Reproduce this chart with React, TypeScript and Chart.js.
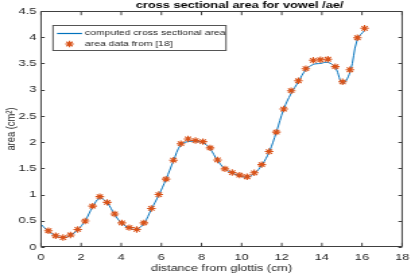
import React, { useEffect, useRef } from 'react';
import { Chart, registerables } from 'chart.js';

Chart.register(...registerables);

// ---------- data ----------
const chartTitle = 'cross sectional area for vowel /ae/';
const xAxisTitle = 'distance from glottis (cm)';
const yAxisTitle = 'area (cm\u00B2)';
const legendLabels = ['computed cross sectional area', 'area data from [18]'];

const distance = [
  0.37, 0.73, 1.1, 1.47, 1.83, 2.2, 2.57, 2.93, 3.3, 3.67, 4.03,
  4.4, 4.77, 5.13, 5.5, 5.87, 6.23, 6.6, 6.97, 7.33, 7.7, 8.07,
  8.43, 8.8, 9.17, 9.53, 9.9, 10.27, 10.63, 11.0, 11.37, 11.73, 12.1,
  12.47, 12.83, 13.2, 13.57, 13.93, 14.3, 14.67, 15.03, 15.4, 15.77, 16.13,
];

const measuredArea = [
  0.31, 0.215, 0.18, 0.23, 0.335, 0.495, 0.78, 0.96, 0.85, 0.63, 0.46,
  0.37, 0.335, 0.46, 0.735, 1.0, 1.295, 1.655, 1.97, 2.06, 2.03, 2.01,
  1.89, 1.66, 1.49, 1.42, 1.37, 1.34, 1.415, 1.57, 1.82, 2.19, 2.63,
  2.98, 3.17, 3.4, 3.56, 3.57, 3.58, 3.44, 3.15, 3.38, 3.99, 4.17,
];

const curveDistance = [0, ...distance];
const computedArea = [
  0.43,
  0.3, 0.21, 0.18, 0.22, 0.33, 0.5, 0.76, 0.93, 0.84, 0.62, 0.45,
  0.36, 0.34, 0.45, 0.72, 0.99, 1.29, 1.64, 1.95, 2.01, 2.01, 1.99,
  1.87, 1.65, 1.49, 1.41, 1.36, 1.33, 1.4, 1.56, 1.81, 2.19, 2.63,
  2.93, 3.15, 3.38, 3.48, 3.5, 3.52, 3.42, 3.12, 3.33, 3.96, 4.13,
];

const xTickValues = [0, 2, 4, 6, 8, 10, 12, 14, 16, 18];
const yTickValues = [0, 0.5, 1, 1.5, 2, 2.5, 3, 3.5, 4, 4.5];
const xTickLabels = ['0', '2', '4', '6', '8', '10', '12', '14', '16', '18'];
const yTickLabels = ['0', '0.5', '1', '1.5', '2', '2.5', '3', '3.5', '4', '4.5'];

// ---------- look ----------
const FONT = '"Liberation Sans", Arial, Helvetica, sans-serif';
const W = 415;
const H = 277;
const IW = 308; // internal canvas width, stretched horizontally to W
const SX = W / IW;
const BLUE = '#0072BD';
const ORANGE = '#D95319';
const AXIS = '#404040';
const TEXT = '#262626';

const framePlugin = {
  id: 'matlabFrame',
  afterDraw(chart: any) {
    const { ctx, chartArea: a, scales } = chart;
    ctx.save();
    ctx.strokeStyle = AXIS;
    ctx.lineWidth = 1;
    const top = Math.round(a.top) + 0.5;
    const bottom = Math.round(a.bottom) - 0.5;
    ctx.beginPath();
    ctx.rect(a.left, top, a.right - a.left, bottom - top);
    const tx = 3.7;
    const ty = 3.7 / SX;
    for (const v of xTickValues) {
      const x = scales.x.getPixelForValue(v);
      ctx.moveTo(x, bottom);
      ctx.lineTo(x, bottom - tx);
      ctx.moveTo(x, top);
      ctx.lineTo(x, top + tx);
    }
    for (const v of yTickValues) {
      const y = Math.round(scales.y.getPixelForValue(v)) + 0.5;
      ctx.moveTo(a.left, y);
      ctx.lineTo(a.left + ty, y);
      ctx.moveTo(a.right, y);
      ctx.lineTo(a.right - ty, y);
    }
    ctx.stroke();

    // title
    ctx.fillStyle = '#000';
    ctx.font = `bold 9.5px ${FONT}`;
    ctx.textAlign = 'center';
    ctx.textBaseline = 'alphabetic';
    ctx.fillText(chartTitle, 239.5 / SX, 7.5);

    // legend box
    const lx0 = 53 / SX;
    const lx1 = 226 / SX;
    const ly0 = 25.5;
    const ly1 = 50.5;
    ctx.fillStyle = '#fff';
    ctx.fillRect(lx0, ly0, lx1 - lx0, ly1 - ly0);
    ctx.strokeStyle = '#555';
    ctx.lineWidth = 1;
    ctx.strokeRect(lx0, ly0, lx1 - lx0, ly1 - ly0);

    // legend line sample
    ctx.beginPath();
    ctx.strokeStyle = BLUE;
    ctx.lineWidth = 1.2;
    ctx.moveTo(57 / SX, 33.5);
    ctx.lineTo(82 / SX, 33.5);
    ctx.stroke();

    // legend texts
    ctx.fillStyle = TEXT;
    ctx.font = `7.7px ${FONT}`;
    ctx.textAlign = 'left';
    ctx.textBaseline = 'middle';
    ctx.fillText(legendLabels[0], 85 / SX, 33);
    ctx.fillText(legendLabels[1], 85 / SX, 44);

    // legend marker: asterisk
    ctx.strokeStyle = ORANGE;
    ctx.lineWidth = 1.1;
    const cx = 69.5 / SX;
    const cy = 44;
    const r = 3.2;
    const d = r * Math.SQRT1_2;
    ctx.beginPath();
    ctx.moveTo(cx - r, cy);
    ctx.lineTo(cx + r, cy);
    ctx.moveTo(cx, cy - r);
    ctx.lineTo(cx, cy + r);
    ctx.moveTo(cx - d, cy - d);
    ctx.lineTo(cx + d, cy + d);
    ctx.moveTo(cx - d, cy + d);
    ctx.lineTo(cx + d, cy - d);
    ctx.stroke();
    ctx.restore();
  },
};

export default function App() {
  const ref = useRef<HTMLCanvasElement | null>(null);

  useEffect(() => {
    document.body.style.margin = '0';
    const canvas = ref.current;
    if (!canvas) return;
    const chart = new Chart(canvas, {
      type: 'line',
      data: {
        datasets: [
          {
            label: legendLabels[1],
            data: distance.map((x, i) => ({ x, y: measuredArea[i] })),
            showLine: false,
            pointStyle: 'star',
            pointRadius: 3.2,
            pointBorderWidth: 1.1,
            pointBorderColor: ORANGE,
            pointBackgroundColor: ORANGE,
            borderColor: ORANGE,
          },
          {
            label: legendLabels[0],
            data: curveDistance.map((x, i) => ({ x, y: computedArea[i] })),
            borderColor: BLUE,
            borderWidth: 1,
            pointRadius: 0,
            tension: 0.4,
            fill: false,
          },
        ],
      },
      options: {
        animation: false,
        responsive: false,
        maintainAspectRatio: false,
        devicePixelRatio: 1,
        layout: { padding: { top: 11, right: (W - 408) / SX, bottom: 0, left: 0 } },
        plugins: {
          legend: { display: false },
          title: { display: false },
          tooltip: { enabled: false },
        },
        scales: {
          x: {
            type: 'linear',
            min: 0,
            max: 18,
            afterBuildTicks: (s: any) => {
              s.ticks = xTickValues.map((value) => ({ value }));
            },
            afterFit: (s: any) => {
              s.height = 30;
            },
            grid: { display: false, drawTicks: false },
            border: { display: false },
            ticks: {
              font: { family: FONT, size: 9.5 },
              color: TEXT,
              padding: 4.3,
              maxRotation: 0,
              autoSkip: false,
              callback: (_v: any, i: number) => xTickLabels[i],
            },
            title: {
              display: true,
              text: xAxisTitle,
              font: { family: FONT, size: 9.4 },
              color: TEXT,
              padding: { top: 0, bottom: 2.5 },
            },
          },
          y: {
            type: 'linear',
            min: 0,
            max: 4.5,
            afterBuildTicks: (s: any) => {
              s.ticks = yTickValues.map((value) => ({ value }));
            },
            afterFit: (s: any) => {
              s.width = 41 / SX;
            },
            grid: { display: false, drawTicks: false },
            border: { display: false },
            ticks: {
              font: { family: FONT, size: 9.5 },
              color: TEXT,
              padding: 3.5,
              autoSkip: false,
              callback: (_v: any, i: number) => yTickLabels[i],
            },
            title: {
              display: true,
              text: yAxisTitle,
              font: { family: FONT, size: 9.4 },
              color: TEXT,
              padding: { top: 3.2, bottom: 0 },
            },
          },
        },
      },
      plugins: [framePlugin],
    } as any);
    return () => chart.destroy();
  }, []);

  return (
    <div style={{ position: 'absolute', left: 0, top: 0, width: W, height: H, background: '#fff' }}>
      <canvas
        ref={ref}
        width={IW}
        height={H}
        style={{ width: `${W}px`, height: `${H}px`, display: 'block' }}
      />
    </div>
  );
}
